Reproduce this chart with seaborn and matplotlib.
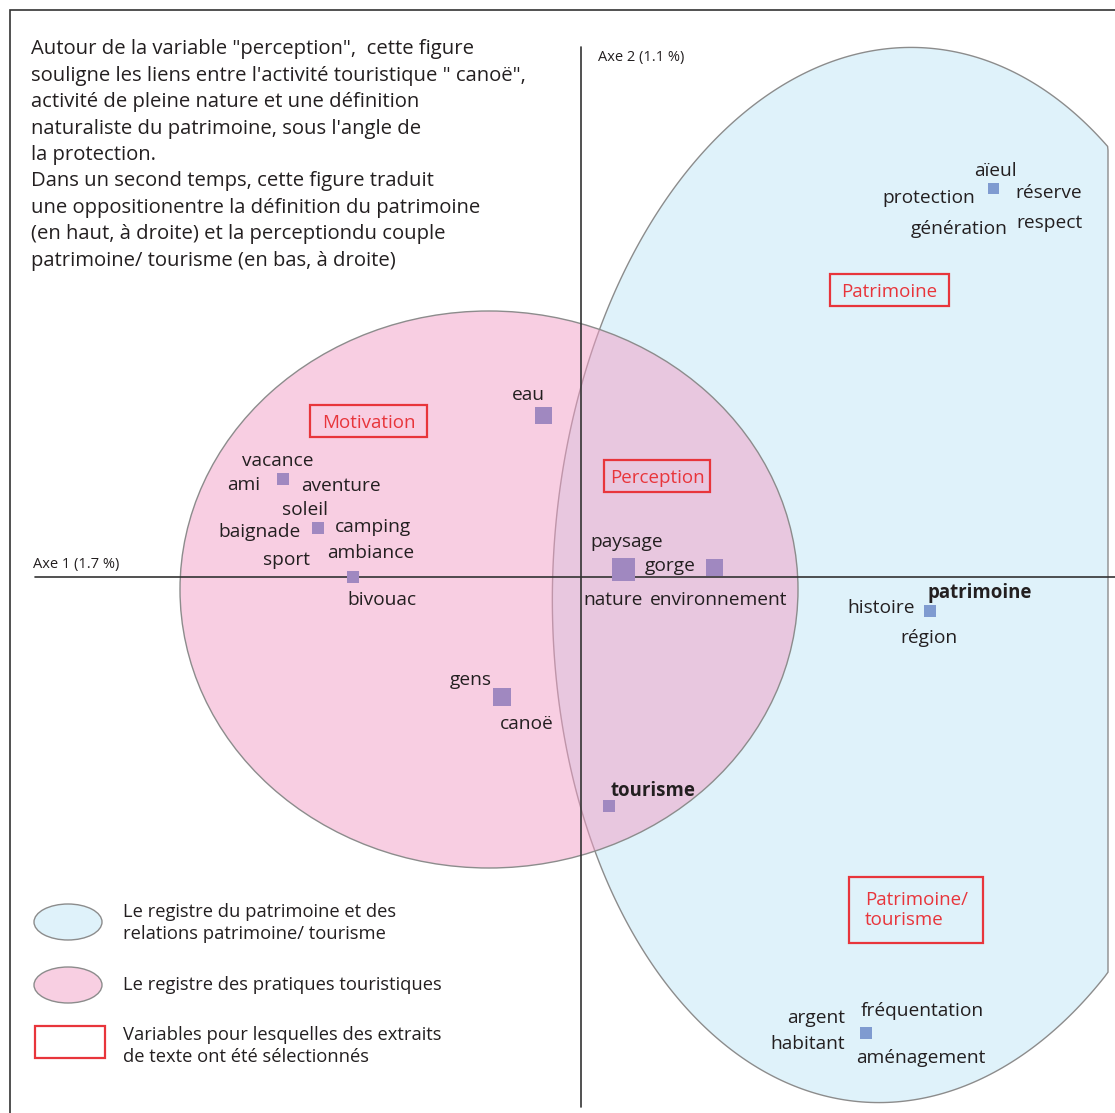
import numpy as np
import pandas as pd
import matplotlib
matplotlib.use("Agg")
import matplotlib.pyplot as plt
import matplotlib.patches as mpatches
import seaborn as sns

# points of the factor map (axe 1 / axe 2), one square per group of words
groupes = ["aieul", "eau", "vacance", "soleil", "bivouac", "paysage",
           "gorge", "patrimoine", "gens", "tourisme", "frequentation"]
axe1 = [4.12, -0.38, -2.98, -2.63, -2.28, 0.42, 1.33, 3.49, -0.79, 0.28, 2.85]
axe2 = [3.88, 1.61, 0.98, 0.49, 0.00, 0.07, 0.09, -0.34, -1.20, -2.29, -4.56]
registre = ["patrimoine", "pratiques", "pratiques", "pratiques", "pratiques",
            "pratiques", "pratiques", "patrimoine", "pratiques", "pratiques",
            "patrimoine"]
poids = [11, 17, 12, 12, 12, 23, 17, 12, 18, 12, 12]

# words written around each square: (word, group, dx px, dy px, bold)
mots = [
    ("aïeul", "aieul", 2, 20, False),
    ("protection", "aieul", -64, -7, False),
    ("réserve", "aieul", 56, -2, False),
    ("génération", "aieul", -34, -38, False),
    ("respect", "aieul", 57, -32, False),
    ("eau", "eau", -15, 23, False),
    ("vacance", "vacance", -5, 20, False),
    ("ami", "vacance", -39, -4, False),
    ("aventure", "vacance", 58, -5, False),
    ("soleil", "soleil", -13, 20, False),
    ("baignade", "soleil", -59, -2, False),
    ("camping", "soleil", 55, 3, False),
    ("sport", "soleil", -31, -30, False),
    ("ambiance", "soleil", 53, -23, False),
    ("bivouac", "bivouac", 29, -21, False),
    ("paysage", "paysage", 4, 30, False),
    ("nature", "paysage", -10, -28, False),
    ("gorge", "gorge", -44, 4, False),
    ("environnement", "gorge", 5, -30, False),
    ("patrimoine", "patrimoine", 50, 20, True),
    ("histoire", "patrimoine", -49, 5, False),
    ("région", "patrimoine", -1, -25, False),
    ("gens", "gens", -31, 19, False),
    ("canoë", "gens", 25, -25, False),
    ("tourisme", "tourisme", 44, 17, True),
    ("fréquentation", "frequentation", 56, 24, False),
    ("argent", "frequentation", -50, 17, False),
    ("habitant", "frequentation", -58, -9, False),
    ("aménagement", "frequentation", 55, -23, False),
]

# variables with selected text extracts: (label, x, y, width, height)
variables = [
    ("Motivation", -2.12, 1.56, 1.17, 0.32),
    ("Perception", 0.76, 1.01, 1.06, 0.32),
    ("Patrimoine", 3.08, 2.87, 1.19, 0.32),
    ("Patrimoine/\ntourisme", 3.35, -3.33, 1.34, 0.66),
]

intro = [
    "Autour de la variable \"perception\",  cette figure",
    "souligne les liens entre l'activité touristique \" canoë\",",
    "activité de pleine nature et une définition",
    "naturaliste du patrimoine, sous l'angle de",
    "la protection.",
    "Dans un second temps, cette figure traduit",
    "une oppositionentre la définition du patrimoine",
    "(en haut, à droite) et la perceptiondu couple",
    "patrimoine/ tourisme (en bas, à droite)",
]

legende = [
    "Le registre du patrimoine et des\nrelations patrimoine/ tourisme",
    "Le registre des pratiques touristiques",
    "Variables pour lesquelles des extraits\nde texte ont été sélectionnés",
]

df = pd.DataFrame({"groupe": groupes, "axe1": axe1, "axe2": axe2,
                   "registre": registre, "poids": poids})

sns.set_theme(style="white")
plt.rcParams["font.family"] = ["Open Sans", "DejaVu Sans"]

INK = "#231f20"
RED = "#e8353b"
EDGE = "#8c8c8c"
BLUE_FILL = "#dff2fa"
PINK_FILL = (0.95, 0.62, 0.775, 0.5)

fig = plt.figure(figsize=(11.15, 11.13), dpi=100)
ax = fig.add_axes([0, 0, 1, 1])
ax.set_xlim(-5.81, 5.34)
ax.set_ylim(-5.36, 5.77)
ax.axis("off")

# blue register: slightly tilted ellipse cut flat on the right side
t = np.linspace(0, 2 * np.pi, 500)
th = np.deg2rad(-3)
ex, ey = 3.42 * np.cos(t), 5.28 * np.sin(t)
bx = 3.14 + ex * np.cos(th) - ey * np.sin(th)
by = 0.02 + ex * np.sin(th) + ey * np.cos(th)
bx = np.minimum(bx, 5.27)
ax.add_patch(mpatches.Polygon(np.column_stack([bx, by]), closed=True,
                              facecolor=BLUE_FILL, edgecolor=EDGE, lw=1.0, zorder=1))

# pink register
ax.add_patch(mpatches.Ellipse((-0.92, -0.125), 6.18, 5.57, facecolor=PINK_FILL,
                              edgecolor=EDGE, lw=1.0, zorder=2))

# axes
ax.plot([-5.46, 5.34], [0, 0], color="#333333", lw=1.2, zorder=2.5)
ax.plot([0, 0], [5.30, -5.30], color="#333333", lw=1.2, zorder=2.5)
ax.text(0.17, 5.19, "Axe 2 (1.1 %)", fontsize=10.5, color=INK, va="center", ha="left")
ax.text(-5.48, 0.12, "Axe 1 (1.7 %)", fontsize=10.5, color=INK, va="center", ha="left")

# frame
ax.plot([-5.71, -5.71, 5.34], [-5.36, 5.67, 5.67], color="#333333", lw=1.2,
        zorder=2.5, solid_joinstyle="miter")

sns.scatterplot(data=df, x="axe1", y="axe2", hue="registre", size="poids",
                sizes={v: (v * 0.72) ** 2 for v in set(poids)},
                palette={"pratiques": "#a088c0", "patrimoine": "#7f9bd0"},
                marker="s", linewidth=0, legend=False, ax=ax, zorder=3)

pos = df.set_index("groupe")
for mot, g, dx, dy, gras in mots:
    ax.annotate(mot, (pos.loc[g, "axe1"], pos.loc[g, "axe2"]),
                xytext=(dx, dy), textcoords="offset pixels",
                ha="center", va="center_baseline",
                fontsize=13.4 if gras else 13.8, color=INK,
                fontweight="bold" if gras else "normal", zorder=4)

for nom, x, y, w, h in variables:
    ax.add_patch(mpatches.Rectangle((x - w / 2, y - h / 2), w, h, fill=False,
                                    edgecolor=RED, lw=1.6, zorder=4))
    if "\n" in nom:
        ax.text(x - w / 2 + 0.16, y, nom, color=RED, fontsize=13.5, ha="left",
                va="center", linespacing=1.2, zorder=4)
    else:
        ax.text(x, y, nom, color=RED, fontsize=13.5, ha="center",
                va="center_baseline", zorder=4)

for i, ligne in enumerate(intro):
    ax.text(-5.50, 5.30 - i * 0.264, ligne, fontsize=14.6, color=INK,
            ha="left", va="center_baseline")

# legend drawn by hand
ax.add_patch(mpatches.Ellipse((-5.13, -3.45), 0.68, 0.36, facecolor=BLUE_FILL,
                              edgecolor=EDGE, lw=1.0))
ax.add_patch(mpatches.Ellipse((-5.13, -4.08), 0.68, 0.36, facecolor="#f8cfe2",
                              edgecolor=EDGE, lw=1.0))
ax.add_patch(mpatches.Rectangle((-5.46, -4.81), 0.70, 0.32, fill=False,
                                edgecolor=RED, lw=1.6))
for texte, y in zip(legende, [-3.46, -4.08, -4.69]):
    ax.text(-4.58, y, texte, fontsize=13.2, color=INK, ha="left", va="center",
            linespacing=1.25)

fig.savefig("out.png", dpi=100)
